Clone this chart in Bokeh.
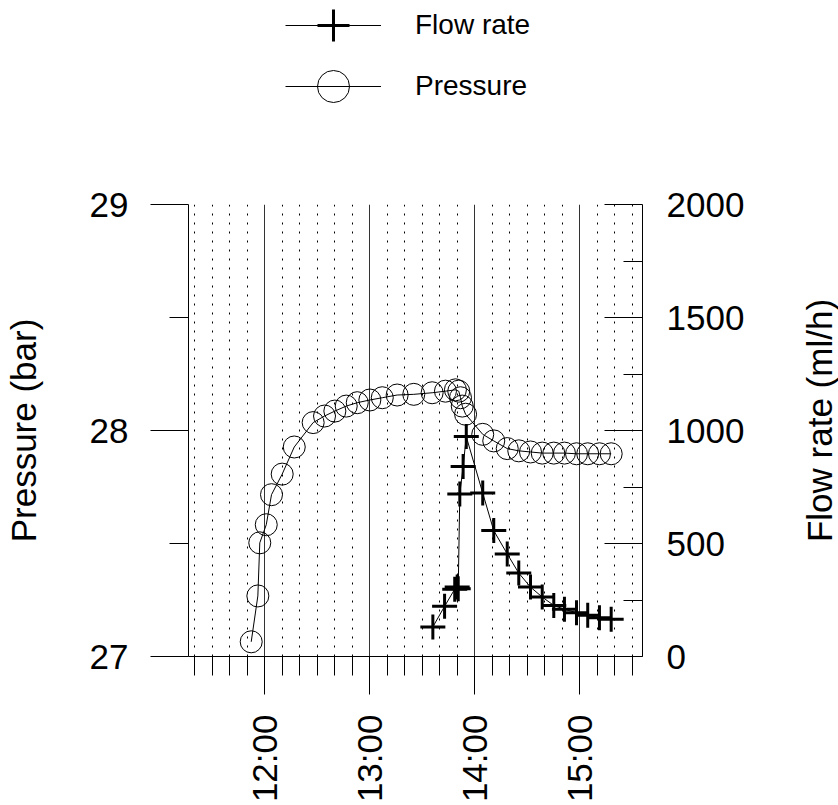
import math
import pandas as pd
from bokeh.plotting import figure
from bokeh.layouts import column, row
from bokeh.models import (Range1d, LinearAxis, FixedTicker, Legend, LegendItem,
                          DatetimeTickFormatter, ColumnDataSource, Label)
from bokeh.embed import file_html
from bokeh.resources import INLINE

DAY = "2000-01-01 "

# ---- data ----
pressure_time = ["11:52:24", "11:56:12", "11:57:18", "12:01:00", "12:04:00", "12:10:06",
                 "12:17:00", "12:27:48", "12:34:18", "12:40:12", "12:46:42", "12:53:00",
                 "13:00:12", "13:07:18", "13:15:48", "13:25:18", "13:35:48", "13:43:24",
                 "13:49:06", "13:51:00", "13:52:00", "13:53:00", "13:54:54", "14:04:42",
                 "14:11:00", "14:18:42", "14:25:18", "14:32:00", "14:38:42", "14:45:18",
                 "14:51:24", "14:58:18", "15:04:42", "15:11:24", "15:18:06"]
pressure_bar = [27.065, 27.268, 27.503, 27.583, 27.716, 27.807,
                27.927, 28.035, 28.064, 28.086, 28.108, 28.123,
                28.135, 28.145, 28.157, 28.160, 28.167, 28.174,
                28.180, 28.174, 28.145, 28.108, 28.072, 27.983,
                27.954, 27.920, 27.910, 27.905, 27.900, 27.900,
                27.900, 27.897, 27.897, 27.897, 27.897]

flow_time = ["13:36:12", "13:42:54", "13:48:42", "13:50:06", "13:50:42", "13:51:36",
             "13:53:30", "13:55:18", "14:04:42", "14:11:00", "14:18:42", "14:25:18",
             "14:32:00", "14:38:42", "14:45:18", "14:51:24", "14:58:18", "15:04:42",
             "15:11:24", "15:18:06"]
flow_mlh = [131, 222, 298, 307, 300, 719,
            841, 973, 723, 557, 454, 369,
            307, 263, 226, 209, 194, 182,
            172, 165]

hour_labels = ["12:00", "13:00", "14:00", "15:00"]
x_start, x_end = "11:16:34", "15:36:00"
minor_start, minor_end = "11:20", "15:30"
pressure_ticks = [27, 28, 29]
pressure_minor = [27.5, 28.5]
flow_ticks = [0, 500, 1000, 1500, 2000]
flow_minor = [250, 750, 1250, 1750]
flow_title = "Flow rate (ml/h)"

FONT = "Liberation Sans"


def to_dt(times):
    return pd.to_datetime([DAY + t for t in times])


def to_ms(times):
    return [int(v.value // 10**6) for v in to_dt(times)]


psrc = ColumnDataSource(dict(t=to_dt(pressure_time), p=pressure_bar))
fsrc = ColumnDataSource(dict(t=to_dt(flow_time), f=flow_mlh))

W, H = 838, 805
LEG_H = 130     # height of the legend strip above the plot
LAB_W = 40      # width of the strip that carries the right-hand axis title
MAIN_W = W - LAB_W

p = figure(width=MAIN_W, height=H - LEG_H, x_axis_type="datetime",
           x_range=Range1d(*to_dt([x_start, x_end])),
           y_range=Range1d(27, 29),
           output_backend="svg", toolbar_location=None,
           min_border_left=188, min_border_right=196 - LAB_W,
           min_border_top=204 - LEG_H, min_border_bottom=147)
p.extra_y_ranges = {"flow": Range1d(0, 2000)}
p.outline_line_color = None
p.background_fill_color = "white"
p.border_fill_color = "white"

major_x = to_ms(hour_labels)
all_10 = pd.date_range(DAY + minor_start, DAY + minor_end, freq="10min")
minor_x = [int(v.value // 10**6) for v in all_10 if v.minute != 0]
xticker = FixedTicker(ticks=major_x, minor_ticks=minor_x)

# bottom axis
xa = p.xaxis[0]
xa.ticker = xticker
xa.formatter = DatetimeTickFormatter(hours="%H:%M", hourmin="%H:%M", minutes="%H:%M",
                                     minsec="%H:%M", seconds="%H:%M", days="%H:%M")
xa.major_label_orientation = math.pi / 2
xa.major_tick_out = 38
xa.major_tick_in = 0
xa.minor_tick_out = 19
xa.minor_tick_in = 0
xa.major_label_standoff = 20
xa.axis_line_color = "black"
xa.major_tick_line_color = "black"
xa.minor_tick_line_color = "black"
xa.major_label_text_color = "black"
xa.major_label_text_font = FONT
xa.major_label_text_font_size = "35px"

# grid: solid at hours, dotted every 10 minutes
g = p.xgrid[0]
g.ticker = xticker
g.grid_line_color = "#333333"
g.grid_line_width = 1
g.minor_grid_line_color = "black"
g.minor_grid_line_dash = "2 7"
g.minor_grid_line_width = 1
p.ygrid.visible = False

# left axis
ya = p.yaxis[0]
ya.ticker = FixedTicker(ticks=pressure_ticks, minor_ticks=pressure_minor)
ya.axis_label = "Pressure (bar)"
ya.axis_label_text_font = FONT
ya.axis_label_text_font_size = "35px"
ya.axis_label_text_font_style = "normal"
ya.axis_label_text_color = "black"
ya.axis_label_standoff = 44
ya.major_tick_out = 38
ya.major_tick_in = 0
ya.minor_tick_out = 19
ya.minor_tick_in = 0
ya.major_label_standoff = 22
ya.axis_line_color = "black"
ya.major_tick_line_color = "black"
ya.minor_tick_line_color = "black"
ya.major_label_text_color = "black"
ya.major_label_text_font = FONT
ya.major_label_text_font_size = "35px"

# right axis
ra = LinearAxis(y_range_name="flow",
                ticker=FixedTicker(ticks=flow_ticks, minor_ticks=flow_minor))
ra.major_tick_in = 38
ra.major_tick_out = 0
ra.minor_tick_in = 19
ra.minor_tick_out = 0
ra.major_label_standoff = 24
ra.axis_line_color = "black"
ra.major_tick_line_color = "black"
ra.minor_tick_line_color = "black"
ra.major_label_text_color = "black"
ra.major_label_text_font = FONT
ra.major_label_text_font_size = "35px"
p.add_layout(ra, "right")

# series
LINE = dict(line_color="black", line_width=1)
CIRCLE = dict(marker="circle", fill_color=None, line_color="black", line_width=1)
CROSS = dict(marker="cross", line_color="black", line_width=3)

p.line("t", "p", source=psrc, **LINE)
p.scatter("t", "p", source=psrc, size=22, **CIRCLE)
p.line("t", "f", source=fsrc, y_range_name="flow", **LINE)
p.scatter("t", "f", source=fsrc, y_range_name="flow", size=25, **CROSS)

# legend strip above the plot (its frame is aligned with the plot frame)
lf = figure(width=MAIN_W, height=LEG_H, x_range=Range1d(0, 1), y_range=Range1d(0, 1),
            output_backend="svg", toolbar_location=None,
            x_axis_location=None, y_axis_location=None,
            min_border=0)
lf.outline_line_color = None
lf.xgrid.visible = False
lf.ygrid.visible = False

key_src = ColumnDataSource(dict(x=[float("nan")], y=[float("nan")]))
kfl = lf.line("x", "y", source=key_src, **LINE)
kfm = lf.scatter("x", "y", source=key_src, **CROSS)
kpl = lf.line("x", "y", source=key_src, **LINE)
kpm = lf.scatter("x", "y", source=key_src, **CIRCLE)

LEG_STYLE = dict(orientation="vertical", glyph_width=96, glyph_height=80,
                 padding=0, margin=0, spacing=0, label_standoff=34,
                 label_text_font=FONT, label_text_font_size="28px",
                 label_text_color="black",
                 border_line_alpha=0, background_fill_alpha=0)
leg1 = Legend(items=[LegendItem(label="Flow rate", renderers=[kfl, kfm])],
              location=(97, 65), **LEG_STYLE)
leg2 = Legend(items=[LegendItem(label="Pressure", renderers=[kpl, kpm])],
              location=(97, 4), **LEG_STYLE)
lf.add_layout(leg1)
lf.add_layout(leg2)

# strip on the right carrying the flow-rate axis title
rf = figure(width=LAB_W, height=H, x_range=Range1d(0, LAB_W), y_range=Range1d(H, 0),
            output_backend="svg", toolbar_location=None,
            x_axis_location=None, y_axis_location=None, min_border=0)
rf.outline_line_color = None
rf.xgrid.visible = False
rf.ygrid.visible = False
rf.add_layout(Label(x=LAB_W / 2 + 1, y=420, text=flow_title, angle=math.pi / 2,
                    text_align="center", text_baseline="middle",
                    text_font=FONT, text_font_size="35px", text_color="black"))

layout = row(column(lf, p, spacing=0), rf, spacing=0)
open("out.html", "w").write(file_html(layout, INLINE))
